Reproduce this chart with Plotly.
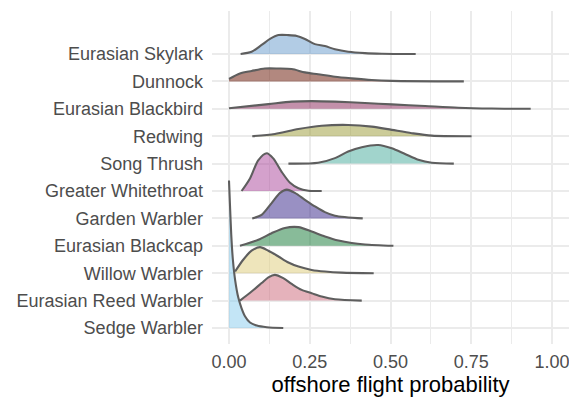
import plotly.graph_objects as go

# Species, bottom to top
species = ["Sedge Warbler", "Eurasian Reed Warbler", "Willow Warbler", "Eurasian Blackcap",
           "Garden Warbler", "Greater Whitethroat", "Song Thrush", "Redwing",
           "Eurasian Blackbird", "Dunnock", "Eurasian Skylark"]

colors = ["#88CCEE", "#CC6677", "#DDCC77", "#117733", "#332288", "#AA4499",
          "#44AA99", "#999933", "#882255", "#661100", "#6699CC"]

# Density curves (x = offshore flight probability, h = scaled ridge height)
sedge_x = [0.0, 0.003, 0.007, 0.012, 0.019, 0.029, 0.039, 0.05, 0.065, 0.086, 0.117, 0.168]
sedge_h = [5.38, 4.5, 3.4, 2.5, 1.75, 1.1, 0.72, 0.42, 0.2, 0.09, 0.03, 0.0]

reed_x = [0.034, 0.07, 0.101, 0.122, 0.142, 0.168, 0.194, 0.225, 0.256, 0.287, 0.328, 0.411]
reed_h = [0.0, 0.33, 0.64, 0.85, 0.94, 0.82, 0.61, 0.39, 0.27, 0.15, 0.05, 0.0]

willow_x = [0.019, 0.044, 0.07, 0.096, 0.122, 0.153, 0.184, 0.215, 0.256, 0.297, 0.349, 0.448]
willow_h = [0.06, 0.49, 0.82, 0.95, 0.82, 0.61, 0.39, 0.24, 0.12, 0.06, 0.02, 0.0]

blackcap_x = [0.034, 0.091, 0.132, 0.173, 0.215, 0.256, 0.297, 0.339, 0.38, 0.421, 0.509]
blackcap_h = [0.0, 0.22, 0.46, 0.65, 0.68, 0.52, 0.34, 0.19, 0.1, 0.05, 0.0]

garden_x = [0.072, 0.101, 0.132, 0.158, 0.179, 0.204, 0.235, 0.266, 0.297, 0.328, 0.414]
garden_h = [0.0, 0.13, 0.56, 0.93, 1.05, 0.93, 0.68, 0.44, 0.23, 0.1, 0.0]

whitethroat_x = [0.039, 0.065, 0.091, 0.117, 0.137, 0.163, 0.189, 0.215, 0.246, 0.287]
whitethroat_h = [0.0, 0.46, 1.13, 1.38, 1.19, 0.7, 0.3, 0.1, 0.01, 0.0]

songthrush_x = [0.184, 0.276, 0.328, 0.369, 0.411, 0.462, 0.504, 0.545, 0.586, 0.628, 0.696]
songthrush_h = [0.0, 0.03, 0.2, 0.44, 0.6, 0.68, 0.56, 0.35, 0.14, 0.03, 0.0]

redwing_x = [0.072, 0.142, 0.215, 0.287, 0.369, 0.442, 0.504, 0.566, 0.628, 0.751]
redwing_h = [0.0, 0.08, 0.26, 0.38, 0.41, 0.35, 0.23, 0.11, 0.02, 0.0]

blackbird_x = [0.0, 0.122, 0.194, 0.256, 0.328, 0.421, 0.504, 0.607, 0.71, 0.813, 0.934]
blackbird_h = [0.02, 0.17, 0.26, 0.28, 0.26, 0.21, 0.16, 0.1, 0.04, 0.01, 0.0]

dunnock_x = [0.0, 0.034, 0.07, 0.111, 0.153, 0.194, 0.235, 0.276, 0.328, 0.38, 0.442, 0.504, 0.727]
dunnock_h = [0.09, 0.29, 0.38, 0.47, 0.47, 0.45, 0.33, 0.26, 0.17, 0.11, 0.05, 0.02, 0.0]

skylark_x = [0.036, 0.07, 0.101, 0.127, 0.153, 0.184, 0.21, 0.235, 0.266, 0.297, 0.328, 0.369, 0.421, 0.473, 0.578]
skylark_h = [0.0, 0.08, 0.33, 0.55, 0.69, 0.69, 0.66, 0.55, 0.36, 0.29, 0.17, 0.08, 0.03, 0.01, 0.0]

curves_x = [sedge_x, reed_x, willow_x, blackcap_x, garden_x, whitethroat_x,
            songthrush_x, redwing_x, blackbird_x, dunnock_x, skylark_x]
curves_h = [sedge_h, reed_h, willow_h, blackcap_h, garden_h, whitethroat_h,
            songthrush_h, redwing_h, blackbird_h, dunnock_h, skylark_h]

x_ticks = [0.0, 0.25, 0.5, 0.75, 1.0]
x_ticklabels = ["0.00", "0.25", "0.50", "0.75", "1.00"]


def rgba(hexc, a):
    hexc = hexc.lstrip("#")
    r, g, b = int(hexc[0:2], 16), int(hexc[2:4], 16), int(hexc[4:6], 16)
    return f"rgba({r},{g},{b},{a})"


fig = go.Figure()

# draw top ridge first so lower ridges sit in front
for i in reversed(range(len(species))):
    base = i + 1
    xs = curves_x[i]
    ys = [base + h for h in curves_h[i]]
    fig.add_trace(go.Scatter(x=[xs[0], xs[-1]], y=[base, base], mode="lines",
                             line=dict(width=0, color="rgba(0,0,0,0)"),
                             hoverinfo="skip", showlegend=False))
    fig.add_trace(go.Scatter(x=xs, y=ys, mode="lines", fill="tonexty",
                             fillcolor=rgba(colors[i], 0.5),
                             line=dict(color="#5e5e5e", width=2.1, shape="spline", smoothing=0.8,
                                       simplify=False),
                             name=species[i], showlegend=False))

font_family = "Liberation Sans, Arial, sans-serif"

fig.update_layout(
    width=569, height=399,
    margin=dict(l=212, r=0, t=11, b=55),
    plot_bgcolor="white", paper_bgcolor="white",
    font=dict(family=font_family),
    showlegend=False,
)
fig.update_xaxes(
    range=[-0.0526, 1.0526], tickvals=x_ticks, ticktext=x_ticklabels,
    showgrid=True, gridcolor="#ebebeb", gridwidth=1.5,
    minor=dict(dtick=0.125, tick0=0, showgrid=True, gridcolor="#ebebeb", gridwidth=1),
    zeroline=False, showline=False, ticks="",
    tickfont=dict(size=18, color="#4d4d4d"), ticklabelstandoff=5,
    ticklabeloverflow="allow",
    title=dict(text="offshore flight probability", font=dict(size=22, color="black"), standoff=1),
)
fig.update_yaxes(
    range=[0.416, 12.569], tickvals=list(range(1, len(species) + 1)), ticktext=species,
    showgrid=True, gridcolor="#ebebeb", gridwidth=1.5,
    zeroline=False, showline=False, ticks="",
    tickfont=dict(size=18, color="#4d4d4d"), ticklabelstandoff=8,
)

fig.write_html("out.html")
